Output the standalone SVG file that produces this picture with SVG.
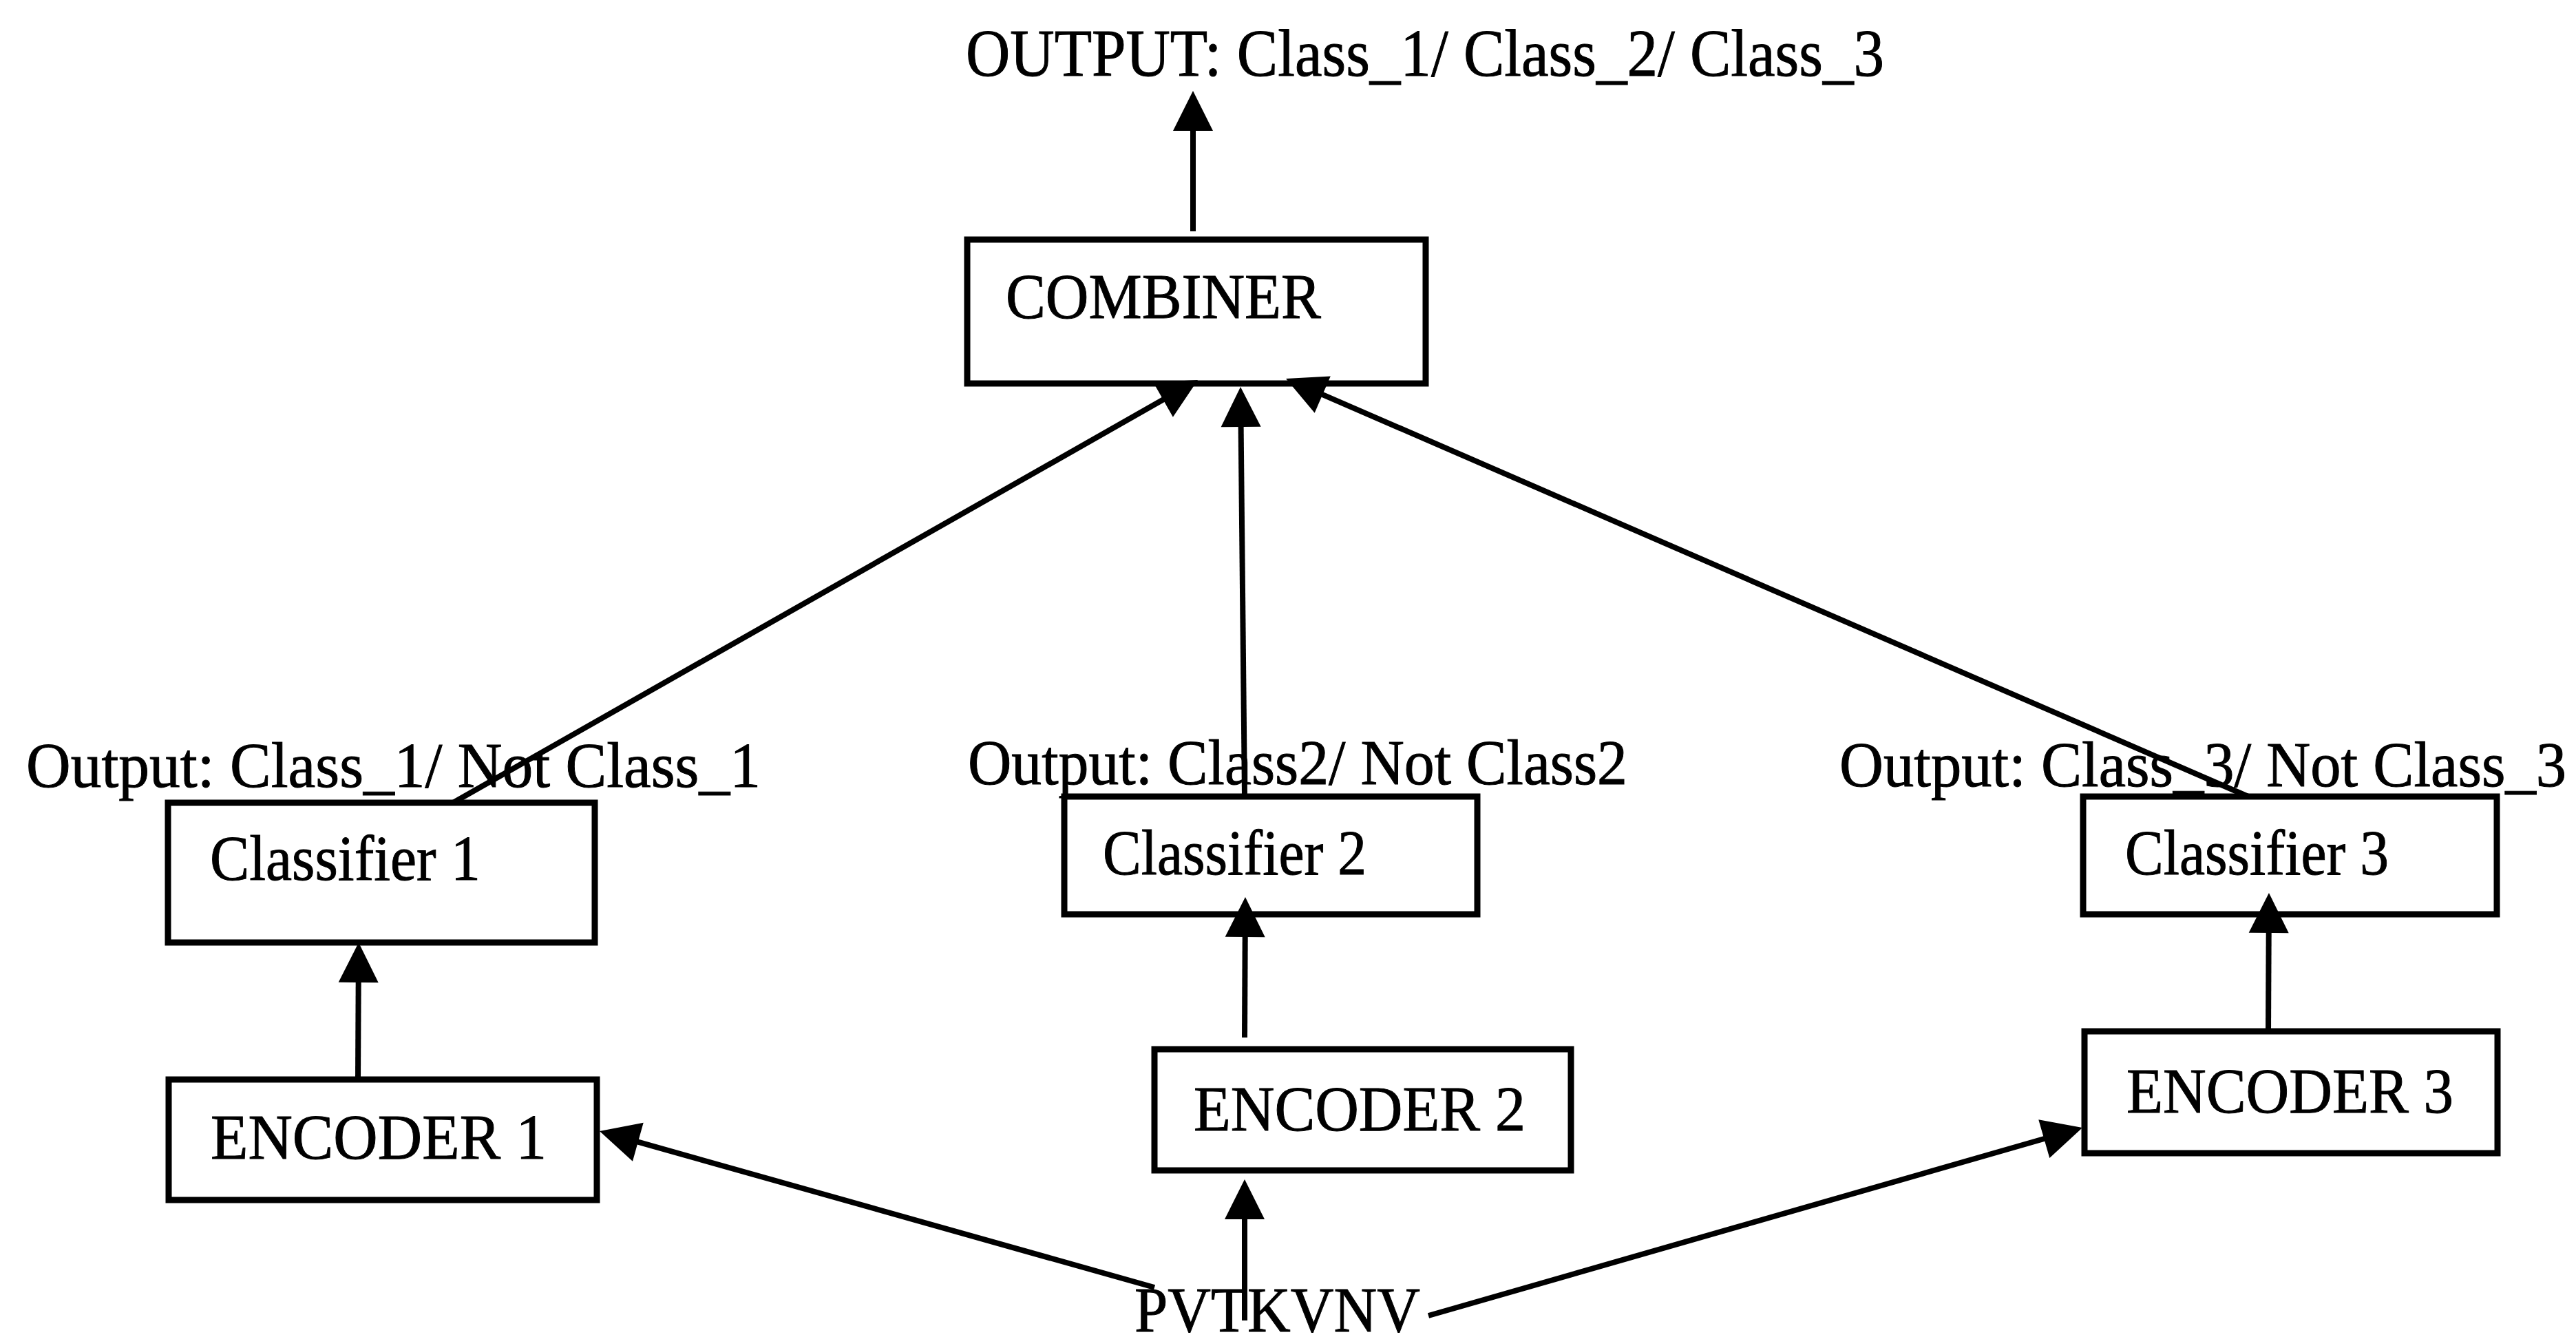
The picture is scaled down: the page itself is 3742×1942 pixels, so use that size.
<svg xmlns="http://www.w3.org/2000/svg" width="3742" height="1942" viewBox="0 0 3742 1942">
<style>
  .box { fill: none; stroke: #000; stroke-width: 9; }
  .txt { font-family: "Liberation Serif", "Times New Roman", serif; font-size: 94px; fill: #000; stroke: #000; stroke-width: 1; }
  .big { font-size: 97px; }
  .conn { fill: none; stroke: #000; stroke-width: 8; marker-end: url(#arrow); }
</style>
<defs>
  <marker id="arrow" markerUnits="userSpaceOnUse" markerWidth="60" markerHeight="60" refX="0" refY="29" orient="auto" overflow="visible">
    <path d="M-2,0 L56,29 L-2,58 Z" fill="#000"/>
  </marker>
</defs>
<rect width="3742" height="1942" fill="#fff"/>

<g id="connectors">
  <path class="conn" d="M1733,336 L1733,188"/>
  <path class="conn" d="M658,1166 L1691.3,579.6"/>
  <path class="conn" d="M1808,1157 L1802.6,618"/>
  <path class="conn" d="M3266,1157 L1919.4,572.3"/>
  <path class="conn" d="M520,1568 L520.7,1425"/>
  <path class="conn" d="M1808,1507 L1808.7,1359"/>
  <path class="conn" d="M3295,1498 L3295.7,1353"/>
  <path class="conn" d="M1677,1870 L924.9,1658.2"/>
  <path class="conn" d="M1808,1918 L1808,1769"/>
  <path class="conn" d="M2075,1911 L2971.2,1653.5"/>
</g>

<g id="output">
  <text class="txt big" x="1403" y="110" textLength="1334" lengthAdjust="spacingAndGlyphs">OUTPUT: Class_1/ Class_2/ Class_3</text>
</g>

<g id="combiner">
  <rect class="box" x="1405" y="348" width="666" height="209"/>
  <text class="txt" x="1461" y="462" textLength="458" lengthAdjust="spacingAndGlyphs">COMBINER</text>
</g>

<g id="classifier1">
  <text class="txt" x="38" y="1143" textLength="1067" lengthAdjust="spacingAndGlyphs">Output: Class_1/ Not Class_1</text>
  <rect class="box" x="244" y="1166" width="620" height="203"/>
  <text class="txt" x="305" y="1278" textLength="393" lengthAdjust="spacingAndGlyphs">Classifier 1</text>
</g>

<g id="classifier2">
  <text class="txt" x="1406" y="1139" textLength="958" lengthAdjust="spacingAndGlyphs">Output: Class2/ Not Class2</text>
  <rect class="box" x="1546" y="1157" width="600" height="171"/>
  <text class="txt" x="1602" y="1270" textLength="383" lengthAdjust="spacingAndGlyphs">Classifier 2</text>
</g>

<g id="classifier3">
  <text class="txt" x="2672" y="1142" textLength="1056" lengthAdjust="spacingAndGlyphs">Output: Class_3/ Not Class_3</text>
  <rect class="box" x="3026" y="1157" width="601" height="171"/>
  <text class="txt" x="3087" y="1270" textLength="383" lengthAdjust="spacingAndGlyphs">Classifier 3</text>
</g>

<g id="encoder1">
  <rect class="box" x="245" y="1568" width="622" height="175"/>
  <text class="txt" x="306" y="1683" textLength="488" lengthAdjust="spacingAndGlyphs">ENCODER 1</text>
</g>

<g id="encoder2">
  <rect class="box" x="1677" y="1524" width="605" height="176"/>
  <text class="txt" x="1734" y="1642" textLength="482" lengthAdjust="spacingAndGlyphs">ENCODER 2</text>
</g>

<g id="encoder3">
  <rect class="box" x="3028" y="1498" width="600" height="177"/>
  <text class="txt" x="3089" y="1616" textLength="475" lengthAdjust="spacingAndGlyphs">ENCODER 3</text>
</g>

<g id="input">
  <text class="txt" x="1648" y="1934" textLength="415" lengthAdjust="spacingAndGlyphs">PVTKVNV</text>
</g>
</svg>
